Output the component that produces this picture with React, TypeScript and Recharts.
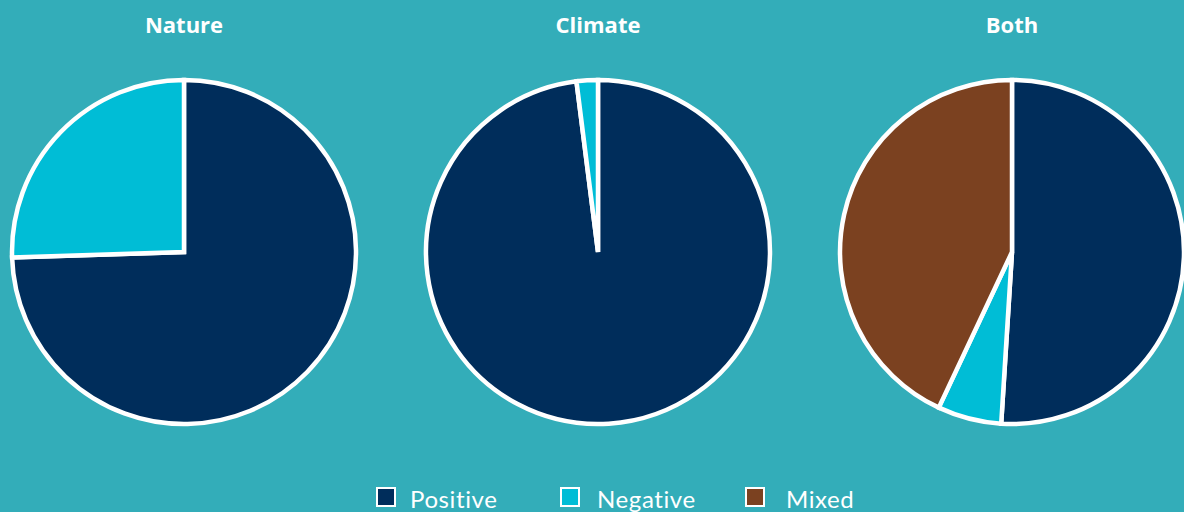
import React from "react";
import { PieChart, Pie, Cell } from "recharts";

const categories = ["Positive", "Negative", "Mixed"];
const colors = ["#002D5B", "#00BDD6", "#7B4120"];
const panels = ["Nature", "Climate", "Both"];
const natureValues = [74.5, 25.5, 0];
const climateValues = [98, 2, 0];
const bothValues = [51, 6, 43];

const toData = (vals: number[]) =>
  categories.map((name, i) => ({ name, value: vals[i] })).filter((d) => d.value > 0);

const series = [natureValues, climateValues, bothValues];
const centers = [184, 598, 1012];
const legendBoxX = [376, 560, 745];
const legendTextX = [410, 597, 786];

export default function App() {
  return (
    <div style={{ position: "fixed", left: 0, top: 0, width: 1184, height: 512, background: "#33ADB9", overflow: "hidden" }}>
      {panels.map((p, i) => (
        <div
          key={p}
          style={{
            position: "absolute",
            left: centers[i] - 100,
            width: 200,
            top: 9,
            textAlign: "center",
            color: "#fff",
            fontFamily: "'Open Sans', sans-serif",
            fontWeight: 700,
            fontSize: 22,
            lineHeight: "30px",
          }}
        >
          {p}
        </div>
      ))}
      <PieChart width={1184} height={512} margin={{ top: 0, right: 0, bottom: 0, left: 0 }} style={{ position: "absolute", left: 0, top: 0 }}>
        {series.map((vals, i) => (
          <Pie
            key={panels[i]}
            data={toData(vals)}
            dataKey="value"
            nameKey="name"
            cx={centers[i]}
            cy={252}
            outerRadius={172}
            startAngle={90}
            endAngle={-270}
            stroke="#ffffff"
            strokeWidth={4.5}
            isAnimationActive={false}
          >
            {toData(vals).map((d) => (
              <Cell key={d.name} fill={colors[categories.indexOf(d.name)]} />
            ))}
          </Pie>
        ))}
      </PieChart>
      {categories.map((c, i) => (
        <React.Fragment key={c}>
          <div
            style={{
              position: "absolute",
              left: legendBoxX[i],
              top: 487,
              width: 20,
              height: 20,
              boxSizing: "border-box",
              background: colors[i],
              border: "2px solid #fff",
            }}
          />
          <div
            style={{
              position: "absolute",
              left: legendTextX[i],
              top: 484,
              color: "#fff",
              fontFamily: "Lato, 'Open Sans', sans-serif",
              fontSize: 24,
              fontWeight: 400,
              lineHeight: "30px",
              letterSpacing: 0.6,
              whiteSpace: "nowrap",
            }}
          >
            {c}
          </div>
        </React.Fragment>
      ))}
    </div>
  );
}
